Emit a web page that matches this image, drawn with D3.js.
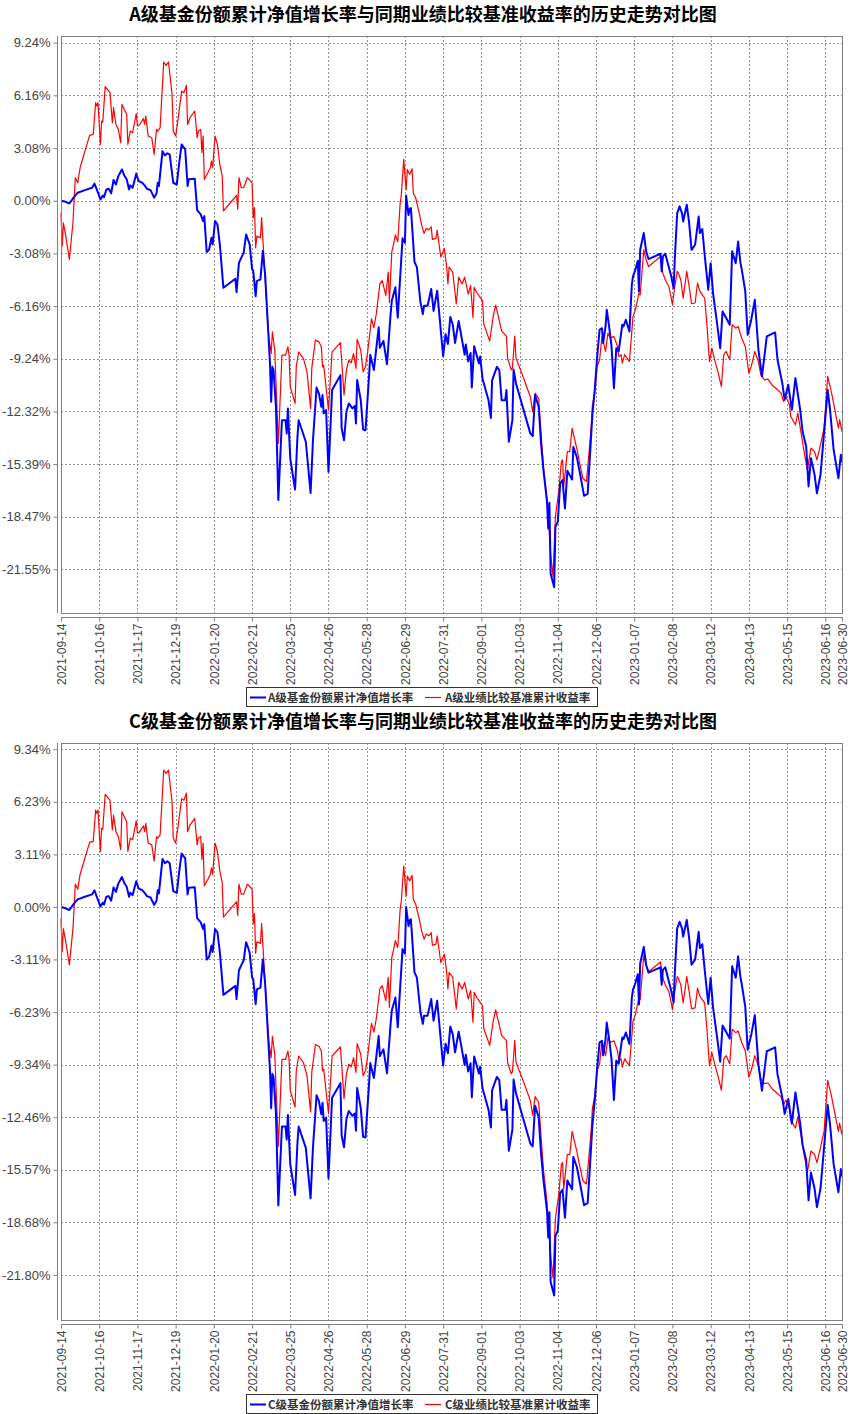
<!DOCTYPE html>
<html>
<head>
<meta charset="utf-8">
<script src="https://cdn.jsdelivr.net/npm/d3@7"></script>
<style>
  body { margin: 0; background: #fff; }
  svg { display: block; }
</style>
</head>
<body>
<div id="chart"></div>
<script>
// ---- data ----
const startDate = '2021-09-14';
const endDate = '2023-06-30';

const xTickLabels = ['2021-09-14','2021-10-16','2021-11-17','2021-12-19','2022-01-20','2022-02-21',
  '2022-03-25','2022-04-26','2022-05-28','2022-06-29','2022-07-31','2022-09-01','2022-10-03',
  '2022-11-04','2022-12-06','2023-01-07','2023-02-08','2023-03-12','2023-04-13','2023-05-15',
  '2023-06-16','2023-06-30'];

const yTicksA = [9.24, 6.16, 3.08, 0, -3.08, -6.16, -9.24, -12.32, -15.39, -18.47, -21.55];
const yTicksC = [9.34, 6.23, 3.11, 0, -3.11, -6.23, -9.34, -12.46, -15.57, -18.68, -21.80];
const yRangeA = [-24.1, 9.63];
const yRangeC = [-24.47, 9.71];

// fund NAV growth (A and C share the same dates)
const navDates = ['2021-09-14','2021-09-17','2021-09-21','2021-09-25','2021-09-28','2021-10-04','2021-10-10',
  '2021-10-12','2021-10-15','2021-10-17','2021-10-19','2021-10-20','2021-10-22','2021-10-24','2021-10-26',
  '2021-10-28','2021-10-30','2021-11-01','2021-11-04','2021-11-06','2021-11-08','2021-11-10','2021-11-11',
  '2021-11-13','2021-11-16','2021-11-18','2021-11-21','2021-11-23','2021-11-25','2021-11-28','2021-12-01',
  '2021-12-03','2021-12-04','2021-12-05','2021-12-08','2021-12-10','2021-12-12','2021-12-14','2021-12-17',
  '2021-12-20','2021-12-22','2021-12-24','2021-12-27','2021-12-29','2021-12-30','2022-01-04','2022-01-06',
  '2022-01-09','2022-01-11','2022-01-12','2022-01-14','2022-01-16','2022-01-18','2022-01-19','2022-01-21',
  '2022-01-23','2022-01-25','2022-01-28','2022-02-07','2022-02-08','2022-02-10','2022-02-12','2022-02-14',
  '2022-02-16','2022-02-18','2022-02-19','2022-02-21','2022-02-22','2022-02-24','2022-02-25','2022-02-28',
  '2022-03-02','2022-03-04','2022-03-06','2022-03-08','2022-03-09','2022-03-10','2022-03-11','2022-03-13',
  '2022-03-15','2022-03-18','2022-03-21','2022-03-22','2022-03-23','2022-03-25','2022-03-29','2022-03-31',
  '2022-04-01','2022-04-07','2022-04-11','2022-04-13','2022-04-16','2022-04-18','2022-04-20','2022-04-21',
  '2022-04-22','2022-04-24','2022-04-26','2022-04-29','2022-05-06','2022-05-07','2022-05-09','2022-05-11',
  '2022-05-13','2022-05-16','2022-05-18','2022-05-19','2022-05-20','2022-05-23','2022-05-25','2022-05-27',
  '2022-05-30','2022-05-31','2022-06-03','2022-06-07','2022-06-08','2022-06-11','2022-06-14','2022-06-17',
  '2022-06-18','2022-06-21','2022-06-23','2022-06-25','2022-06-27','2022-06-29','2022-06-30','2022-07-02',
  '2022-07-03','2022-07-04','2022-07-07','2022-07-09','2022-07-12','2022-07-14','2022-07-15','2022-07-18',
  '2022-07-21','2022-07-23','2022-07-26','2022-07-31','2022-08-02','2022-08-04','2022-08-06','2022-08-08',
  '2022-08-10','2022-08-13','2022-08-15','2022-08-18','2022-08-19','2022-08-21','2022-08-23','2022-08-24',
  '2022-08-26','2022-08-30','2022-08-31','2022-09-02','2022-09-07','2022-09-09','2022-09-10','2022-09-14',
  '2022-09-16','2022-09-18','2022-09-21','2022-09-22','2022-09-24','2022-09-27','2022-09-28','2022-09-30',
  '2022-10-12','2022-10-14','2022-10-16','2022-10-19','2022-10-21','2022-10-23','2022-10-26','2022-10-27',
  '2022-10-28','2022-10-29','2022-11-01','2022-11-02','2022-11-04','2022-11-06','2022-11-08','2022-11-10',
  '2022-11-12','2022-11-16','2022-11-17','2022-11-20','2022-11-23','2022-11-26','2022-11-29','2022-12-01',
  '2022-12-03','2022-12-05','2022-12-07','2022-12-09','2022-12-11','2022-12-12','2022-12-14','2022-12-15',
  '2022-12-17','2022-12-19','2022-12-21','2022-12-23','2022-12-25','2022-12-28','2022-12-29','2022-12-31',
  '2023-01-03','2023-01-05','2023-01-06','2023-01-08','2023-01-10','2023-01-11','2023-01-12','2023-01-15',
  '2023-01-17','2023-01-19','2023-01-29','2023-01-30','2023-01-31','2023-02-02','2023-02-07','2023-02-09',
  '2023-02-10','2023-02-12','2023-02-14','2023-02-16','2023-02-17','2023-02-20','2023-02-22','2023-02-24',
  '2023-02-27','2023-03-02','2023-03-03','2023-03-05','2023-03-07','2023-03-10','2023-03-12','2023-03-14',
  '2023-03-17','2023-03-20','2023-03-22','2023-03-25','2023-03-28','2023-03-30','2023-04-02','2023-04-04',
  '2023-04-06','2023-04-07','2023-04-10','2023-04-12','2023-04-15','2023-04-18','2023-04-21','2023-04-24',
  '2023-04-28','2023-05-05','2023-05-07','2023-05-11','2023-05-13','2023-05-16','2023-05-19','2023-05-22',
  '2023-05-26','2023-05-28','2023-05-31','2023-06-02','2023-06-04','2023-06-07','2023-06-09','2023-06-12',
  '2023-06-14','2023-06-18','2023-06-20','2023-06-23','2023-06-27','2023-06-29','2023-06-30'];

const navA = [0.00,-0.04,-0.16,0.23,0.47,0.62,0.76,1.00,0.47,0.08,0.31,0.20,0.66,0.70,0.43,1.21,0.95,1.44,1.83,
  1.48,1.25,0.66,0.90,0.76,1.58,1.15,1.05,0.90,0.70,0.62,0.18,0.43,1.05,0.86,2.90,2.65,2.77,2.71,1.05,0.95,
  2.22,3.29,3.00,0.86,1.25,1.29,-0.55,-0.80,-1.19,-0.90,-3.00,-2.85,-2.16,-2.55,-1.19,-1.38,-2.55,-5.09,-4.56,
  -5.34,-3.63,-3.33,-3.04,-1.97,-2.36,-2.55,-4.00,-4.10,-5.58,-4.70,-4.60,-2.94,-4.40,-6.98,-9.51,-11.75,-9.71,
  -9.90,-12.05,-17.50,-12.83,-12.83,-13.60,-12.14,-15.07,-16.88,-13.80,-12.83,-14.09,-17.08,-14.00,-10.92,-11.27,
  -12.05,-11.36,-12.44,-12.24,-15.85,-11.07,-10.20,-13.30,-14.00,-12.34,-11.85,-12.14,-12.00,-13.02,-10.48,-11.66,
  -13.38,-13.42,-10.20,-9.00,-9.90,-7.40,-8.60,-8.20,-9.55,-6.63,-5.85,-5.06,-6.83,-4.47,-2.20,-2.46,0.30,-0.83,
  -0.49,-0.43,-3.58,-3.88,-5.94,-6.63,-6.14,-6.14,-5.16,-6.44,-5.26,-9.09,-7.81,-8.37,-6.79,-7.22,-8.31,-7.03,
  -7.81,-9.00,-8.40,-9.39,-8.90,-10.92,-8.50,-9.51,-9.10,-10.40,-11.66,-12.70,-10.50,-9.71,-9.90,-11.66,-11.66,
  -11.07,-14.09,-12.83,-9.87,-10.68,-13.60,-13.76,-11.36,-12.04,-14.20,-15.75,-17.60,-19.16,-17.66,-21.80,-22.60,
  -19.06,-18.77,-16.53,-16.33,-17.99,-15.79,-16.30,-14.39,-15.00,-16.10,-17.25,-17.13,-14.85,-12.50,-11.00,-9.10,
  -7.54,-7.45,-8.32,-7.35,-6.37,-7.35,-8.52,-10.96,-8.62,-8.81,-7.25,-7.35,-6.96,-7.64,-4.91,-4.42,-4.03,-3.51,
  -5.30,-2.87,-1.89,-2.96,-3.41,-3.10,-4.13,-3.25,-3.10,-4.42,-5.10,-3.35,-0.72,-0.33,-0.72,-1.21,-0.23,-1.30,
  -2.87,-2.57,-0.92,-1.89,-1.66,-3.16,-5.20,-3.65,-5.40,-6.96,-8.62,-6.47,-6.86,-7.25,-2.96,-3.65,-2.38,-3.65,
  -4.00,-5.30,-7.84,-6.96,-5.79,-8.71,-10.27,-7.93,-7.70,-9.30,-10.66,-11.64,-10.76,-12.22,-10.37,-12.22,-13.49,
  -14.37,-16.70,-15.05,-16.00,-17.10,-16.00,-14.37,-11.05,-12.22,-14.56,-16.22,-14.85,-15.30];

const navC = [0.00,-0.06,-0.18,0.21,0.45,0.60,0.74,0.98,0.41,0.02,0.25,0.14,0.60,0.64,0.37,1.15,0.89,1.38,1.77,
  1.42,1.19,0.60,0.84,0.70,1.52,1.09,0.99,0.84,0.64,0.56,0.12,0.37,0.99,0.80,2.84,2.59,2.71,2.59,0.93,0.83,
  2.10,3.17,2.88,0.74,1.13,1.17,-0.67,-0.92,-1.31,-1.02,-3.12,-2.97,-2.28,-2.67,-1.31,-1.50,-2.67,-5.21,-4.68,
  -5.46,-3.75,-3.45,-3.16,-2.09,-2.48,-2.73,-4.18,-4.28,-5.76,-4.88,-4.78,-3.12,-4.58,-7.16,-9.69,-11.93,-9.89,
  -10.08,-12.23,-17.68,-13.01,-13.01,-13.78,-12.32,-15.25,-17.06,-13.98,-13.01,-14.27,-17.26,-14.24,-11.16,-11.51,
  -12.29,-11.60,-12.68,-12.48,-16.09,-11.31,-10.44,-13.54,-14.24,-12.58,-12.09,-12.38,-12.24,-13.26,-10.72,-11.90,
  -13.62,-13.66,-10.44,-9.24,-10.14,-7.64,-8.84,-8.44,-9.85,-6.93,-6.15,-5.36,-7.13,-4.77,-2.50,-2.76,0.00,-1.13,
  -0.79,-0.73,-3.88,-4.18,-6.24,-6.93,-6.44,-6.44,-5.46,-6.74,-5.56,-9.39,-8.11,-8.67,-7.09,-7.52,-8.61,-7.39,
  -8.17,-9.36,-8.76,-9.75,-9.26,-11.28,-8.86,-9.87,-9.46,-10.76,-12.02,-13.06,-10.86,-10.07,-10.26,-12.02,-12.02,
  -11.43,-14.45,-13.19,-10.23,-11.04,-14.02,-14.18,-11.78,-12.46,-14.62,-16.17,-18.02,-19.58,-18.08,-22.22,-23.02,
  -19.48,-19.19,-16.95,-16.75,-18.41,-16.21,-16.72,-14.81,-15.42,-16.52,-17.67,-17.55,-15.27,-12.92,-11.42,-9.52,
  -8.02,-7.93,-8.80,-7.83,-6.85,-7.83,-9.00,-11.44,-9.10,-9.29,-7.73,-7.83,-7.44,-8.12,-5.39,-4.90,-4.51,-3.99,
  -5.78,-3.35,-2.37,-3.44,-3.89,-3.58,-4.61,-3.73,-3.58,-4.97,-5.65,-3.90,-1.27,-0.88,-1.27,-1.76,-0.78,-1.85,
  -3.42,-3.12,-1.47,-2.44,-2.21,-3.71,-5.75,-4.20,-5.95,-7.51,-9.17,-7.02,-7.41,-7.80,-3.51,-4.20,-2.93,-4.20,
  -4.55,-5.92,-8.46,-7.58,-6.41,-9.33,-10.89,-8.55,-8.32,-9.92,-11.28,-12.26,-11.38,-12.84,-10.99,-12.84,-14.11,
  -14.99,-17.38,-15.73,-16.68,-17.78,-16.68,-15.05,-11.73,-12.90,-15.24,-16.90,-15.53,-15.98];

// benchmark return (same benchmark for both share classes)
const benchDates = ['2021-09-14','2021-09-15','2021-09-16','2021-09-18','2021-09-21','2021-09-24','2021-09-26',
  '2021-09-28','2021-09-30','2021-10-04','2021-10-08','2021-10-11','2021-10-13','2021-10-14','2021-10-15',
  '2021-10-17','2021-10-18','2021-10-19','2021-10-21','2021-10-25','2021-10-27','2021-10-28','2021-10-30',
  '2021-11-01','2021-11-03','2021-11-04','2021-11-08','2021-11-09','2021-11-11','2021-11-13','2021-11-16',
  '2021-11-17','2021-11-19','2021-11-22','2021-11-23','2021-11-24','2021-11-26','2021-11-29','2021-12-01',
  '2021-12-03','2021-12-04','2021-12-06','2021-12-09','2021-12-11','2021-12-13','2021-12-16','2021-12-17',
  '2021-12-19','2021-12-21','2021-12-24','2021-12-26','2021-12-28','2021-12-29','2021-12-31','2022-01-04',
  '2022-01-06','2022-01-07','2022-01-09','2022-01-10','2022-01-11','2022-01-12','2022-01-15','2022-01-17',
  '2022-01-18','2022-01-19','2022-01-21','2022-01-23','2022-01-25','2022-01-27','2022-01-28','2022-02-08',
  '2022-02-09','2022-02-10','2022-02-12','2022-02-14','2022-02-17','2022-02-19','2022-02-21','2022-02-22',
  '2022-02-23','2022-02-24','2022-02-25','2022-02-28','2022-03-01','2022-03-05','2022-03-07','2022-03-09',
  '2022-03-10','2022-03-12','2022-03-15','2022-03-18','2022-03-21','2022-03-23','2022-03-24','2022-03-25',
  '2022-03-29','2022-03-30','2022-04-01','2022-04-05','2022-04-08','2022-04-11','2022-04-12','2022-04-15',
  '2022-04-18','2022-04-20','2022-04-21','2022-04-22','2022-04-26','2022-04-29','2022-05-06','2022-05-09',
  '2022-05-11','2022-05-13','2022-05-15','2022-05-17','2022-05-19','2022-05-20','2022-05-23','2022-05-25',
  '2022-05-27','2022-05-29','2022-06-01','2022-06-03','2022-06-05','2022-06-08','2022-06-10','2022-06-13',
  '2022-06-15','2022-06-16','2022-06-18','2022-06-19','2022-06-21','2022-06-23','2022-06-25','2022-06-26',
  '2022-06-28','2022-06-30','2022-07-01','2022-07-03','2022-07-05','2022-07-06','2022-07-08','2022-07-11',
  '2022-07-13','2022-07-15','2022-07-17','2022-07-19','2022-07-21','2022-07-22','2022-07-25','2022-07-26',
  '2022-07-29','2022-08-01','2022-08-03','2022-08-04','2022-08-05','2022-08-08','2022-08-11','2022-08-13',
  '2022-08-16','2022-08-18','2022-08-21','2022-08-23','2022-08-25','2022-08-26','2022-08-28','2022-08-31',
  '2022-09-02','2022-09-03','2022-09-06','2022-09-08','2022-09-11','2022-09-13','2022-09-16','2022-09-18',
  '2022-09-22','2022-09-23','2022-09-26','2022-09-27','2022-09-29','2022-09-30','2022-10-06','2022-10-12',
  '2022-10-14','2022-10-16','2022-10-19','2022-10-21','2022-10-23','2022-10-26','2022-10-29','2022-10-31',
  '2022-11-02','2022-11-05','2022-11-07','2022-11-08','2022-11-09','2022-11-12','2022-11-14','2022-11-16',
  '2022-11-20','2022-11-22','2022-11-25','2022-11-28','2022-11-30','2022-12-02','2022-12-03','2022-12-05',
  '2022-12-07','2022-12-09','2022-12-11','2022-12-14','2022-12-16','2022-12-18','2022-12-21','2022-12-24',
  '2022-12-25','2022-12-27','2022-12-28','2022-12-30','2023-01-03','2023-01-06','2023-01-08','2023-01-11',
  '2023-01-12','2023-01-15','2023-01-17','2023-01-19','2023-01-29','2023-01-31','2023-02-02','2023-02-05',
  '2023-02-07','2023-02-08','2023-02-10','2023-02-12','2023-02-13','2023-02-15','2023-02-17','2023-02-20',
  '2023-02-22','2023-02-24','2023-02-27','2023-03-01','2023-03-03','2023-03-07','2023-03-09','2023-03-11',
  '2023-03-13','2023-03-15','2023-03-18','2023-03-21','2023-03-23','2023-03-25','2023-03-28','2023-03-30',
  '2023-04-02','2023-04-04','2023-04-07','2023-04-10','2023-04-13','2023-04-15','2023-04-18','2023-04-21',
  '2023-04-23','2023-04-26','2023-04-29','2023-05-03','2023-05-07','2023-05-10','2023-05-12','2023-05-14',
  '2023-05-17','2023-05-18','2023-05-22','2023-05-24','2023-05-27','2023-05-29','2023-06-01','2023-06-04',
  '2023-06-07','2023-06-09','2023-06-11','2023-06-15','2023-06-18','2023-06-21','2023-06-24','2023-06-27',
  '2023-06-28','2023-06-30'];

const bench = [-0.70,-2.65,-1.29,-2.07,-3.43,-1.29,1.35,1.05,1.93,2.90,3.82,3.88,5.73,5.54,5.73,3.29,4.66,4.60,
  6.67,6.32,4.56,5.44,4.46,4.17,3.39,5.63,5.05,3.29,4.07,3.98,5.10,4.37,4.46,4.80,4.46,4.95,3.78,3.68,2.71,4.17,
  4.07,4.27,8.11,7.91,8.11,6.22,4.07,3.78,4.76,6.41,6.32,6.74,4.46,4.85,5.24,3.68,4.07,4.17,2.81,3.78,1.25,1.64,
  1.93,2.32,1.93,3.78,3.29,2.12,1.44,-0.60,0.31,-0.50,1.35,0.76,0.76,1.35,1.21,1.05,-0.99,-0.40,-2.75,-2.07,
  -2.16,-0.99,-5.80,-7.95,-8.93,-7.66,-8.73,-14.19,-9.03,-9.03,-8.54,-9.03,-10.88,-11.85,-9.71,-8.83,-9.22,-10.00,
  -12.14,-9.80,-8.15,-8.25,-8.54,-9.71,-9.61,-12.24,-8.83,-8.30,-11.36,-9.90,-9.32,-9.47,-8.93,-9.80,-8.10,-8.73,
  -10.00,-9.71,-8.73,-6.90,-7.42,-6.63,-4.86,-4.67,-5.55,-4.17,-5.94,-2.99,-2.70,-2.00,-2.40,-0.14,0.35,2.42,0.65,
  1.83,1.54,1.87,0.45,0.16,-0.73,-1.42,-1.91,-1.61,-1.71,-1.52,-2.26,-2.20,-1.71,-3.29,-2.80,-3.88,-4.86,-3.88,
  -4.17,-6.04,-4.47,-4.86,-4.47,-5.45,-4.96,-6.83,-5.06,-5.35,-5.65,-5.85,-7.19,-7.81,-8.20,-6.73,-6.10,-7.00,
  -7.62,-7.91,-9.23,-9.88,-9.78,-7.91,-9.20,-10.30,-11.46,-12.34,-11.24,-11.57,-13.60,-15.56,-17.50,-20.62,-21.98,
  -18.47,-16.90,-15.25,-15.15,-16.70,-14.67,-14.67,-13.30,-14.50,-15.24,-16.22,-16.41,-14.85,-13.20,-11.93,-11.20,
  -9.69,-9.30,-7.93,-8.81,-7.74,-8.03,-7.93,-8.52,-9.10,-9.00,-9.49,-9.00,-9.40,-6.76,-6.37,-5.40,-5.50,-2.87,
  -3.45,-3.84,-3.26,-4.23,-4.62,-5.01,-5.69,-6.08,-5.01,-4.13,-4.23,-4.62,-5.69,-4.13,-5.01,-6.02,-5.98,-4.81,
  -5.30,-5.69,-7.35,-9.40,-8.62,-9.20,-9.98,-10.86,-9.00,-8.81,-9.30,-7.25,-7.45,-7.35,-8.03,-8.52,-10.08,-9.69,
  -8.81,-9.40,-10.18,-10.47,-10.43,-10.82,-11.05,-11.25,-11.73,-11.44,-11.93,-12.60,-13.10,-12.42,-13.68,-14.56,
  -15.73,-14.46,-14.66,-15.15,-14.56,-13.30,-10.27,-11.15,-12.22,-13.30,-12.80,-13.50];

const panels = [
  { title: 'A级基金份额累计净值增长率与同期业绩比较基准收益率的历史走势对比图',
    fundName: 'A级基金份额累计净值增长率', benchName: 'A级业绩比较基准累计收益率',
    nav: navA, yTicks: yTicksA, yRange: yRangeA },
  { title: 'C级基金份额累计净值增长率与同期业绩比较基准收益率的历史走势对比图',
    fundName: 'C级基金份额累计净值增长率', benchName: 'C级业绩比较基准累计收益率',
    nav: navC, yTicks: yTicksC, yRange: yRangeC }
];

// ---- drawing ----
const W = 850, H = 1414, panelH = 707;
const plot = { left: 61, right: 842, top: 36, bottom: 613 };
const parse = d3.timeParse('%Y-%m-%d');
const fmtDate = d3.timeFormat('%Y-%m-%d');
const axisFont = '"Liberation Sans", Arial, sans-serif';
const cjkFont = '"Noto Sans CJK SC", "Noto Sans", sans-serif';

const svg = d3.select('#chart').append('svg')
  .attr('width', W).attr('height', H);
svg.append('rect').attr('width', W).attr('height', H).attr('fill', '#fff');

const x = d3.scaleTime()
  .domain([parse(startDate), parse(endDate)])
  .range([plot.left, plot.right]);
const xTicks = xTickLabels.map(parse);
const benchData = benchDates.map((d, i) => ({ date: parse(d), value: bench[i] }));

panels.forEach((p, pi) => {
  const g = svg.append('g').attr('transform', `translate(0,${pi * panelH})`);
  const y = d3.scaleLinear().domain(p.yRange).range([plot.bottom, plot.top]);

  g.append('text')
    .attr('x', 423).attr('y', 21)
    .attr('text-anchor', 'middle')
    .attr('font-family', cjkFont)
    .attr('font-size', '18px')
    .attr('font-weight', 'bold')
    .attr('fill', '#000')
    .text(p.title);

  // grid
  const grid = g.append('g')
    .attr('stroke', '#909090')
    .attr('stroke-width', 1)
    .attr('stroke-dasharray', '2,2');
  grid.selectAll('.hgrid').data(p.yTicks).enter().append('line')
    .attr('x1', plot.left).attr('x2', plot.right)
    .attr('y1', d => Math.round(y(d)) + 0.5).attr('y2', d => Math.round(y(d)) + 0.5);
  grid.selectAll('.vgrid').data(xTicks).enter().append('line')
    .attr('y1', plot.top).attr('y2', plot.bottom)
    .attr('x1', d => Math.round(x(d)) + 0.5).attr('x2', d => Math.round(x(d)) + 0.5);

  const line = d3.line().x(d => x(d.date)).y(d => y(d.value));
  const navData = navDates.map((d, i) => ({ date: parse(d), value: p.nav[i] }));

  g.append('path').datum(benchData)
    .attr('d', line)
    .attr('fill', 'none')
    .attr('stroke', '#ff0000')
    .attr('stroke-width', 1.2)
    .attr('stroke-linejoin', 'round');

  g.append('path').datum(navData)
    .attr('d', line)
    .attr('fill', 'none')
    .attr('stroke', '#0000ff')
    .attr('stroke-width', 2)
    .attr('stroke-linejoin', 'round');

  // plot frame
  g.append('rect')
    .attr('x', plot.left + 0.5).attr('y', plot.top + 0.5)
    .attr('width', plot.right - plot.left).attr('height', plot.bottom - plot.top)
    .attr('fill', 'none').attr('stroke', '#808080').attr('stroke-width', 1);

  // y axis
  const yAxis = g.append('g')
    .attr('transform', `translate(${plot.left - 3.5},0)`)
    .call(d3.axisLeft(y).tickValues(p.yTicks).tickSize(4).tickSizeOuter(0).tickPadding(3)
      .tickFormat(d => d.toFixed(2) + '%'));
  yAxis.select('.domain').attr('stroke', '#808080').attr('d', `M0,${plot.top}V${plot.bottom}`);
  yAxis.selectAll('.tick line').attr('stroke', '#808080');
  yAxis.selectAll('.tick text')
    .attr('font-family', axisFont).attr('font-size', '13px').attr('fill', '#444');

  // x axis
  const xAxis = g.append('g')
    .attr('transform', `translate(0,${plot.bottom + 4.5})`)
    .call(d3.axisBottom(x).tickValues(xTicks).tickSize(4).tickSizeOuter(0).tickFormat(fmtDate));
  xAxis.select('.domain').attr('stroke', '#808080').attr('d', `M${plot.left},0H${plot.right + 1}`);
  xAxis.selectAll('.tick line').attr('stroke', '#808080');
  xAxis.selectAll('.tick text')
    .attr('font-family', axisFont).attr('font-size', '12px').attr('fill', '#444')
    .attr('transform', 'rotate(-90)')
    .attr('text-anchor', 'end')
    .attr('x', -6).attr('y', 0).attr('dy', '0.35em');

  // legend
  const lg = g.append('g');
  lg.append('rect')
    .attr('x', 246.5).attr('y', 687.5).attr('width', 351).attr('height', 19)
    .attr('fill', '#fff').attr('stroke', '#333').attr('stroke-width', 1);
  const items = [
    { name: p.fundName, color: '#0000ff', x0: 250, tx: 268 },
    { name: p.benchName, color: '#ff0000', x0: 425, tx: 445 }
  ];
  items.forEach(it => {
    lg.append('line')
      .attr('x1', it.x0).attr('x2', it.x0 + 16)
      .attr('y1', 697.5).attr('y2', 697.5)
      .attr('stroke', it.color).attr('stroke-width', it.color === '#0000ff' ? 2 : 1.2);
    lg.append('text')
      .attr('x', it.tx).attr('y', 701.5)
      .attr('font-family', cjkFont)
      .attr('font-size', '11.5px')
      .attr('font-weight', 'bold')
      .attr('fill', '#333')
      .text(it.name);
  });
});
</script>
</body>
</html>
